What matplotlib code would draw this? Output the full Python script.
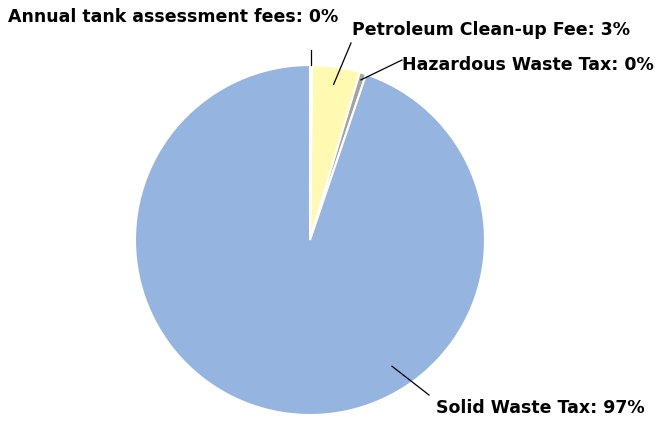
import numpy as np
import matplotlib
matplotlib.use("Agg")
import matplotlib.pyplot as plt

# slice sizes as drawn (percent of circle), clockwise from 12 o'clock
categories = ["Annual tank assessment fees", "Petroleum Clean-up Fee",
              "Hazardous Waste Tax", "Solid Waste Tax"]
values = [0.2, 4.4, 0.6, 94.8]
pct_labels = ["0%", "3%", "0%", "97%"]
colors = ["#FFFFFF", "#FFF9B1", "#A3A3A3", "#95B4DF"]

fig = plt.figure(figsize=(6.6, 4.21), dpi=100)
# pie center at ~(310, 240) px, radius ~175 px
W, H = 660, 421
cx, cy, r = 310, 240, 175
ax = fig.add_axes([(cx - r) / W, (H - cy - r) / H, 2 * r / W, 2 * r / H])
wedges, _ = ax.pie(values, colors=colors, startangle=90, counterclock=False,
                   radius=1.0, wedgeprops=dict(edgecolor="white", linewidth=1.5))
ax.set_xlim(-1, 1)
ax.set_ylim(-1, 1)
ax.set_aspect("equal")
ax.axis("off")

def px(x, y):
  return ((x - cx) / r, (cy - y) / r)

# leader lines: anchor radius/angle on slice, then end point in pixels
angles = []
start = 90.0
for v in values:
  angles.append(start - v * 3.6 / 2)
  start -= v * 3.6
angles[3] = -57.0
anchor_r = [1.0, 0.9, 0.96, 0.86]
line_ends = [(None, 50), (351, 43), (402, 60), (429, 395)]
text_pos = [(338, 17, "right"), (352, 30, "left"), (402, 65, "left"), (436, 408, "left")]

for i, name in enumerate(categories):
  a = np.deg2rad(angles[i])
  x0, y0 = anchor_r[i] * np.cos(a), anchor_r[i] * np.sin(a)
  ex, ey = line_ends[i]
  if ex is None:
    x1, y1 = x0, px(0, ey)[1]
  else:
    x1, y1 = px(ex, ey)
  ax.plot([x0, x1], [y0, y1], color="black", linewidth=0.9, clip_on=False)
  tx, ty = px(text_pos[i][0], text_pos[i][1])
  ax.text(tx, ty, name + ": " + pct_labels[i], ha=text_pos[i][2], va="center",
          fontsize=12.5, fontweight="bold", color="black", clip_on=False)

plt.savefig("out.png", dpi=100)
